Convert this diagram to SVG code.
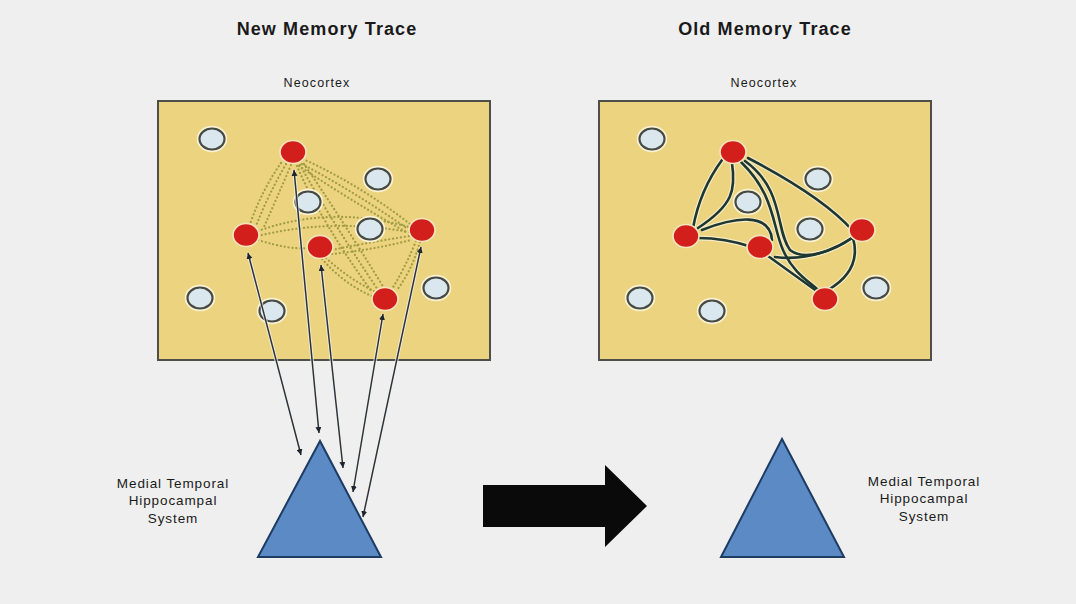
<svg xmlns="http://www.w3.org/2000/svg" width="1076" height="604" viewBox="0 0 1076 604">
<defs>
<style>
.title{font-family:"Liberation Sans",Arial,sans-serif;font-weight:bold;font-size:18px;letter-spacing:1.1px;fill:#1a1a1a;text-anchor:middle}
.small{font-family:"Liberation Sans",Arial,sans-serif;font-size:12.5px;letter-spacing:1.1px;fill:#1a1a1a;text-anchor:middle}
.lbl{font-family:"Liberation Sans",Arial,sans-serif;font-size:13.5px;letter-spacing:0.9px;fill:#1a1a1a;text-anchor:middle}
.box{fill:#ecd37f;stroke:#4f4f4a;stroke-width:2}
.wh{fill:#dbe7ee;stroke:#474a40;stroke-width:2.2}
.whh{fill:none;stroke:#fbf3d8;stroke-width:5.5}
.rd{fill:#d31f1c;stroke:#f3e6bf;stroke-width:1.6}
.tri{fill:#5b8ac4;stroke:#1d3b63;stroke-width:2}
.dot{fill:none;stroke:#a09c40;stroke-width:2.2;stroke-dasharray:0.1 3.8;stroke-linecap:round}
.cvh{fill:none;stroke:#f6ecc6;stroke-width:5}
.cv{fill:none;stroke:#1e3731;stroke-width:2.6;stroke-linecap:round}
.ln{fill:none;stroke:#2c3240;stroke-width:1.5}
.lnh{fill:none;stroke:#f4f2e6;stroke-width:3.6;opacity:0.7}
</style>
<marker id="ah" viewBox="0 0 8 8" refX="8" refY="4" markerWidth="6" markerHeight="6" orient="auto-start-reverse" markerUnits="userSpaceOnUse">
<path d="M0,0 L8,4 L0,8 Z" fill="#1e2430"/>
</marker>
</defs>
<rect width="1076" height="604" fill="#efefef"/>

<g id="titles">
<text class="title" x="327" y="35">New Memory Trace</text>
<text class="title" x="765" y="35">Old Memory Trace</text>
</g>

<g id="new-cortex">
<rect class="box" x="158" y="101" width="332" height="259"/>
<text class="small" x="317" y="87">Neocortex</text>
</g>
<g id="old-cortex">
<rect class="box" x="599" y="101" width="332" height="259"/>
<text class="small" x="764" y="87">Neocortex</text>
</g>

<g id="new-links">
<path class="dot" d="M281,163 Q262,190 250,224"/>
<path class="dot" d="M286,164 Q268,195 256,226"/>
<path class="dot" d="M291,165 Q276,200 263,229"/>
<path class="dot" d="M303,159 Q360,185 410,224"/>
<path class="dot" d="M302,164 Q355,192 408,229"/>
<path class="dot" d="M299,166 Q350,200 406,232"/>
<path class="dot" d="M300,165 Q328,215 378,290"/>
<path class="dot" d="M297,166 Q320,220 372,292"/>
<path class="dot" d="M304,164 Q336,210 384,288"/>
<path class="dot" d="M258,231 Q330,205 409,227"/>
<path class="dot" d="M258,236 Q330,218 409,232"/>
<path class="dot" d="M258,240 Q290,250 308,248"/>
<path class="dot" d="M332,250 Q370,242 410,236"/>
<path class="dot" d="M332,254 Q372,250 411,240"/>
<path class="dot" d="M326,258 Q350,280 378,293"/>
<path class="dot" d="M322,259 Q345,285 374,297"/>
<path class="dot" d="M416,241 Q405,268 392,289"/>
<path class="dot" d="M420,242 Q412,270 397,290"/>
</g>

<g id="old-links">
<path class="cvh" d="M722,160 Q700,190 693,228"/>
<path class="cvh" d="M732,163 C736,190 733,205 698,228"/>
<path class="cvh" d="M702,230 C735,217 770,212 772,240"/>
<path class="cvh" d="M698,238 Q725,238 752,247"/>
<path class="cvh" d="M768,256 L818,292"/>
<path class="cvh" d="M741,162 C775,195 772,225 783,250 S812,283 820,292"/>
<path class="cvh" d="M745,161 C785,190 775,230 790,250 C805,262 835,250 852,238"/>
<path class="cvh" d="M748,158 C790,180 830,205 852,230"/>
<path class="cvh" d="M853,238 Q862,270 828,290"/>
<path class="cvh" d="M775,257 Q815,262 852,238"/>
<path class="cv" d="M722,160 Q700,190 693,228"/>
<path class="cv" d="M732,163 C736,190 733,205 698,228"/>
<path class="cv" d="M702,230 C735,217 770,212 772,240"/>
<path class="cv" d="M698,238 Q725,238 752,247"/>
<path class="cv" d="M768,256 L818,292"/>
<path class="cv" d="M741,162 C775,195 772,225 783,250 S812,283 820,292"/>
<path class="cv" d="M745,161 C785,190 775,230 790,250 C805,262 835,250 852,238"/>
<path class="cv" d="M748,158 C790,180 830,205 852,230"/>
<path class="cv" d="M853,238 Q862,270 828,290"/>
<path class="cv" d="M775,257 Q815,262 852,238"/>
</g>

<g id="new-neurons">
<ellipse class="whh" cx="212" cy="139" rx="12.5" ry="10.5"/><ellipse class="wh" cx="212" cy="139" rx="12.5" ry="10.5"/>
<ellipse class="whh" cx="378" cy="179" rx="12.5" ry="10.5"/><ellipse class="wh" cx="378" cy="179" rx="12.5" ry="10.5"/>
<ellipse class="whh" cx="308" cy="202" rx="12.5" ry="10.5"/><ellipse class="wh" cx="308" cy="202" rx="12.5" ry="10.5"/>
<ellipse class="whh" cx="370" cy="229" rx="12.5" ry="10.5"/><ellipse class="wh" cx="370" cy="229" rx="12.5" ry="10.5"/>
<ellipse class="whh" cx="200" cy="298" rx="12.5" ry="10.5"/><ellipse class="wh" cx="200" cy="298" rx="12.5" ry="10.5"/>
<ellipse class="whh" cx="272" cy="311" rx="12.5" ry="10.5"/><ellipse class="wh" cx="272" cy="311" rx="12.5" ry="10.5"/>
<ellipse class="whh" cx="436" cy="288" rx="12.5" ry="10.5"/><ellipse class="wh" cx="436" cy="288" rx="12.5" ry="10.5"/>
<ellipse class="rd" cx="293" cy="152" rx="13" ry="11.5"/>
<ellipse class="rd" cx="246" cy="235" rx="13" ry="11.5"/>
<ellipse class="rd" cx="320" cy="247" rx="13" ry="11.5"/>
<ellipse class="rd" cx="422" cy="230" rx="13" ry="11.5"/>
<ellipse class="rd" cx="385" cy="299" rx="13" ry="11.5"/>
</g>

<g id="old-neurons">
<ellipse class="whh" cx="652" cy="139" rx="12.5" ry="10.5"/><ellipse class="wh" cx="652" cy="139" rx="12.5" ry="10.5"/>
<ellipse class="whh" cx="818" cy="179" rx="12.5" ry="10.5"/><ellipse class="wh" cx="818" cy="179" rx="12.5" ry="10.5"/>
<ellipse class="whh" cx="748" cy="202" rx="12.5" ry="10.5"/><ellipse class="wh" cx="748" cy="202" rx="12.5" ry="10.5"/>
<ellipse class="whh" cx="810" cy="229" rx="12.5" ry="10.5"/><ellipse class="wh" cx="810" cy="229" rx="12.5" ry="10.5"/>
<ellipse class="whh" cx="640" cy="298" rx="12.5" ry="10.5"/><ellipse class="wh" cx="640" cy="298" rx="12.5" ry="10.5"/>
<ellipse class="whh" cx="712" cy="311" rx="12.5" ry="10.5"/><ellipse class="wh" cx="712" cy="311" rx="12.5" ry="10.5"/>
<ellipse class="whh" cx="876" cy="288" rx="12.5" ry="10.5"/><ellipse class="wh" cx="876" cy="288" rx="12.5" ry="10.5"/>
<ellipse class="rd" cx="733" cy="152" rx="13" ry="11.5"/>
<ellipse class="rd" cx="686" cy="236" rx="13" ry="11.5"/>
<ellipse class="rd" cx="760" cy="247" rx="13" ry="11.5"/>
<ellipse class="rd" cx="862" cy="230" rx="13" ry="11.5"/>
<ellipse class="rd" cx="825" cy="299" rx="13" ry="11.5"/>
</g>

<g id="connectors">
<line class="lnh" x1="248" y1="253" x2="301" y2="455"/>
<line class="lnh" x1="294" y1="170" x2="319" y2="433"/>
<line class="lnh" x1="321" y1="265" x2="343" y2="468"/>
<line class="lnh" x1="383" y1="314" x2="353" y2="492"/>
<line class="lnh" x1="421" y1="247" x2="363" y2="517"/>
<line class="ln" x1="248" y1="253" x2="301" y2="455" marker-start="url(#ah)" marker-end="url(#ah)"/>
<line class="ln" x1="294" y1="170" x2="319" y2="433" marker-start="url(#ah)" marker-end="url(#ah)"/>
<line class="ln" x1="321" y1="265" x2="343" y2="468" marker-start="url(#ah)" marker-end="url(#ah)"/>
<line class="ln" x1="383" y1="314" x2="353" y2="492" marker-start="url(#ah)" marker-end="url(#ah)"/>
<line class="ln" x1="421" y1="247" x2="363" y2="517" marker-start="url(#ah)" marker-end="url(#ah)"/>
</g>

<g id="new-hippocampus">
<polygon class="tri" points="320,441 258,557 381,557"/>
<text class="lbl" x="173" y="488">Medial Temporal</text>
<text class="lbl" x="173" y="505">Hippocampal</text>
<text class="lbl" x="173" y="523">System</text>
</g>

<g id="transition-arrow">
<polygon points="483,485 605,485 605,465 647,506 605,547 605,527 483,527" fill="#0a0a0a"/>
</g>

<g id="old-hippocampus">
<polygon class="tri" points="782,439 721,557 844,557"/>
<text class="lbl" x="924" y="486">Medial Temporal</text>
<text class="lbl" x="924" y="503">Hippocampal</text>
<text class="lbl" x="924" y="521">System</text>
</g>
</svg>
